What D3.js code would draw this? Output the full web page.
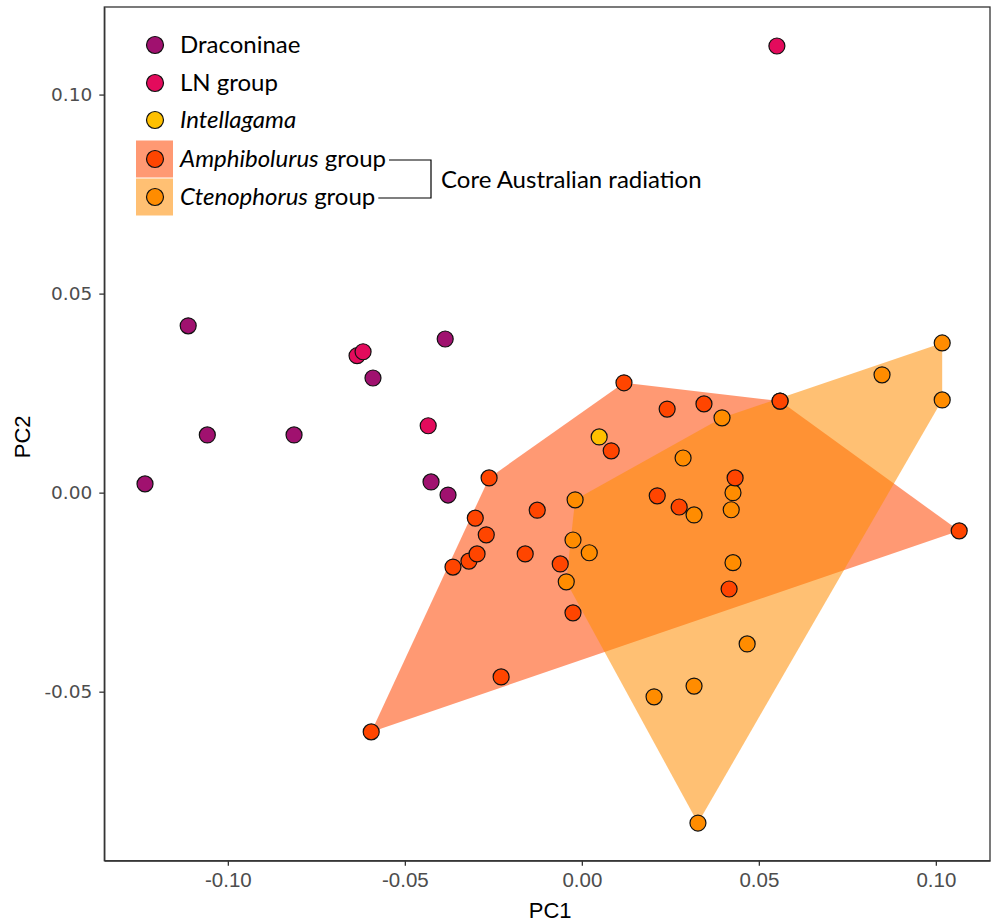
<!DOCTYPE html>
<html>
<head>
<meta charset="utf-8">
<script src="https://cdn.jsdelivr.net/npm/d3@7"></script>
<style>
  html, body { margin: 0; padding: 0; background: #fff; }
  svg { display: block; }
</style>
</head>
<body>
<svg id="chart" width="992" height="924"></svg>
<script>
// ---- data (PC1, PC2) ----
const draconinae = [
  [-0.1234, 0.0022], [-0.1112, 0.0419], [-0.1058, 0.0145], [-0.0813, 0.0145],
  [-0.0590, 0.0288], [-0.0386, 0.0386], [-0.0426, 0.0027], [-0.0378, -0.0006]
];
const lnGroup = [
  [0.0551, 0.1122], [-0.0635, 0.0344], [-0.0618, 0.0354], [-0.0434, 0.0168]
];
const intellagama = [
  [0.0049, 0.0140]
];
const amphibolurus = [
  [-0.0595, -0.0601], [-0.0228, -0.0463], [-0.0364, -0.0187], [-0.0319, -0.0172],
  [-0.0296, -0.0154], [-0.0270, -0.0106], [-0.0301, -0.0064], [-0.0262, 0.0037],
  [-0.0160, -0.0154], [-0.0126, -0.0044], [-0.0061, -0.0179], [-0.0025, -0.0302],
  [0.0083, 0.0105], [0.0119, 0.0276], [0.0241, 0.0210], [0.0345, 0.0223],
  [0.0560, 0.0230], [0.0213, -0.0008], [0.0275, -0.0036], [0.0433, 0.0037],
  [0.0416, -0.0242], [0.1066, -0.0096]
];
const ctenophorus = [
  [-0.0019, -0.0018], [-0.0025, -0.0119], [0.0021, -0.0151], [-0.0044, -0.0224],
  [0.0286, 0.0087], [0.0317, -0.0056], [0.0396, 0.0188], [0.0427, 0.0000],
  [0.0422, -0.0043], [0.0427, -0.0176], [0.0467, -0.0380], [0.0317, -0.0486],
  [0.0204, -0.0513], [0.0328, -0.0830], [0.0848, 0.0296], [0.1018, 0.0376],
  [0.1018, 0.0233], [0.0560, 0.0230]
];
const xTicks = [-0.10, -0.05, 0.00, 0.05, 0.10];
const xTickLabels = ["-0.10", "-0.05", "0.00", "0.05", "0.10"];
const yTicks = [-0.05, 0.00, 0.05, 0.10];
const yTickLabels = ["-0.05", "0.00", "0.05", "0.10"];
const xDomain = [-0.1349, 0.1153];
const yDomain = [-0.09246, 0.1220];

// ---- styles ----
const colors = {
  draconinae: "#A0116F",
  ln: "#E30B5C",
  intellagama: "#FFC000",
  amphibolurus: "#FF4500",
  ctenophorus: "#FF8C00"
};

const svg = d3.select("#chart");
const panel = { left: 104.3, right: 990, top: 7, bottom: 860.7 };

const x = d3.scaleLinear().domain(xDomain).range([panel.left, panel.right]);
const y = d3.scaleLinear().domain(yDomain).range([panel.bottom, panel.top]);

// hulls
const hullAmph = d3.polygonHull(amphibolurus.map(d => [x(d[0]), y(d[1])]));
const hullCten = d3.polygonHull(ctenophorus.map(d => [x(d[0]), y(d[1])]));

svg.append("path")
  .attr("d", "M" + hullAmph.join("L") + "Z")
  .attr("fill", colors.amphibolurus)
  .attr("fill-opacity", 0.55);
svg.append("path")
  .attr("d", "M" + hullCten.join("L") + "Z")
  .attr("fill", colors.ctenophorus)
  .attr("fill-opacity", 0.55);

// points
function drawPoints(data, color) {
  svg.append("g").selectAll("circle")
    .data(data)
    .join("circle")
    .attr("cx", d => x(d[0]))
    .attr("cy", d => y(d[1]))
    .attr("r", 8)
    .attr("fill", color)
    .attr("stroke", "#111")
    .attr("stroke-width", 1.2);
}
drawPoints(draconinae, colors.draconinae);
drawPoints(lnGroup, colors.ln);
drawPoints(intellagama, colors.intellagama);
drawPoints(ctenophorus.slice().reverse(), colors.ctenophorus);
drawPoints(amphibolurus, colors.amphibolurus);

// panel border
svg.append("rect")
  .attr("x", panel.left).attr("y", panel.top)
  .attr("width", panel.right - panel.left)
  .attr("height", panel.bottom - panel.top)
  .attr("fill", "none")
  .attr("stroke", "#333")
  .attr("stroke-width", 1.3);

// axes
const xAxis = d3.axisBottom(x)
  .tickValues(xTicks)
  .tickFormat((d, i) => xTickLabels[i])
  .tickSizeInner(5).tickSizeOuter(0).tickPadding(7);
const gx = svg.append("g")
  .attr("transform", `translate(0,${panel.bottom})`)
  .call(xAxis);
gx.select(".domain").attr("stroke", "#333").attr("stroke-width", 1.3);
gx.selectAll(".tick line").attr("stroke", "#333").attr("stroke-width", 1.3);
gx.selectAll(".tick text")
  .attr("fill", "#4D4D4D")
  .style("font-family", "'Liberation Sans', Arial, sans-serif")
  .style("font-size", "20.5px");

const yAxis = d3.axisLeft(y)
  .tickValues(yTicks)
  .tickFormat((d, i) => yTickLabels[i])
  .tickSizeInner(5).tickSizeOuter(0).tickPadding(7);
const gy = svg.append("g")
  .attr("transform", `translate(${panel.left},0)`)
  .call(yAxis);
gy.select(".domain").attr("stroke", "#333").attr("stroke-width", 1.3);
gy.selectAll(".tick line").attr("stroke", "#333").attr("stroke-width", 1.3);
gy.selectAll(".tick text")
  .attr("fill", "#4D4D4D")
  .style("font-family", "'DejaVu Sans', Verdana, sans-serif")
  .style("font-size", "18.5px");

// axis titles
svg.append("text")
  .attr("x", (panel.left + panel.right) / 2 + 3)
  .attr("y", 918)
  .attr("text-anchor", "middle")
  .style("font-family", "'Liberation Sans', Arial, sans-serif")
  .style("font-size", "22px")
  .attr("fill", "#000")
  .text("PC1");
svg.append("text")
  .attr("transform", `translate(30,${(panel.top + panel.bottom) / 2 + 3}) rotate(-90)`)
  .attr("text-anchor", "middle")
  .style("font-family", "'Liberation Sans', Arial, sans-serif")
  .style("font-size", "22px")
  .attr("fill", "#000")
  .text("PC2");

// legend
const legendFont = "Lato, 'Open Sans', sans-serif";
const legendSize = "24px";
const legendItems = [
  { y: 45, color: colors.draconinae, parts: [["Draconinae", false]] },
  { y: 83, color: colors.ln, parts: [["LN group", false]] },
  { y: 120, color: colors.intellagama, parts: [["Intellagama", true]] },
  { y: 159, color: colors.amphibolurus, parts: [["Amphibolurus", true], [" group", false]], key: 0.55 },
  { y: 197, color: colors.ctenophorus, parts: [["Ctenophorus", true], [" group", false]], key: 0.55 }
];
const lg = svg.append("g");
const ends = [];
legendItems.forEach(it => {
  if (it.key) {
    lg.append("rect")
      .attr("x", 136).attr("y", it.y - 18.5)
      .attr("width", 37).attr("height", 37)
      .attr("fill", it.color).attr("fill-opacity", it.key);
  }
  lg.append("circle")
    .attr("cx", 155).attr("cy", it.y).attr("r", 8.5)
    .attr("fill", it.color).attr("stroke", "#111").attr("stroke-width", 1.2);
  const t = lg.append("text")
    .attr("x", 180).attr("y", it.y + 8)
    .style("font-family", legendFont)
    .style("font-size", legendSize)
    .attr("fill", "#000");
  it.parts.forEach(p => {
    t.append("tspan").text(p[0]).style("font-style", p[1] ? "italic" : "normal");
  });
  ends.push(180 + t.node().getComputedTextLength());
});

// bracket
const e1 = ends[3] + 3, e2 = ends[4] + 3, bx = 431;
lg.append("path")
  .attr("d", `M${e1},160H${bx}V198H${e2}`)
  .attr("fill", "none").attr("stroke", "#000").attr("stroke-width", 1.2);
lg.append("text")
  .attr("x", 441).attr("y", 188)
  .style("font-family", legendFont)
  .style("font-size", legendSize)
  .attr("fill", "#000")
  .text("Core Australian radiation");
</script>
</body>
</html>
